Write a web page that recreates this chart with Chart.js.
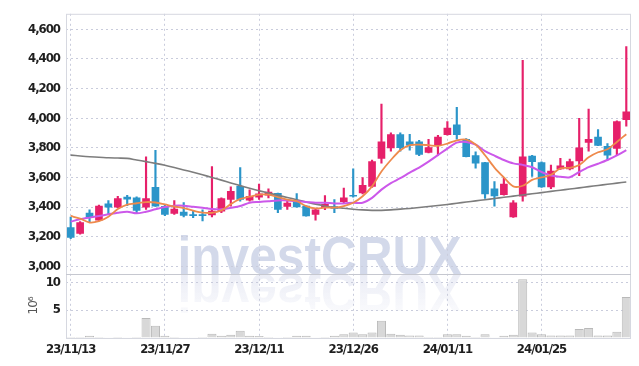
<!DOCTYPE html>
<html>
<head>
<meta charset="utf-8">
<script src="https://cdn.jsdelivr.net/npm/chart.js@4.4.1/dist/chart.umd.min.js"></script>
<style>
  html, body { margin: 0; padding: 0; background: #fff; }
  #wrap { width: 639px; height: 366px; }
</style>
</head>
<body>
<div id="wrap"><canvas id="chart" width="639" height="366"></canvas></div>
<script>
// trading days, YY/MM/DD
const dates = [
  '23/11/13','23/11/14','23/11/15','23/11/16','23/11/17','23/11/20','23/11/21','23/11/22','23/11/23','23/11/24',
  '23/11/27','23/11/28','23/11/29','23/11/30','23/12/01','23/12/04','23/12/05','23/12/06','23/12/07','23/12/08',
  '23/12/11','23/12/12','23/12/13','23/12/14','23/12/15','23/12/18','23/12/19','23/12/20','23/12/21','23/12/22',
  '23/12/26','23/12/27','23/12/28','24/01/02','24/01/03','24/01/04','24/01/05','24/01/08','24/01/09','24/01/10',
  '24/01/11','24/01/12','24/01/15','24/01/16','24/01/17','24/01/18','24/01/19','24/01/22','24/01/23','24/01/24',
  '24/01/25','24/01/26','24/01/29','24/01/30','24/01/31','24/02/01','24/02/02','24/02/05','24/02/06','24/02/07'
];

const open = [
  3262,3222,3360,3311,3422,3400,3467,3462,3400,3533,
  3405,3358,3367,3349,3349,3347,3373,3451,3540,3447,
  3467,3480,3493,3404,3440,3407,3351,3396,3404,3436,
  3480,3496,3540,3729,3800,3889,3840,3840,3769,3818,
  3889,3956,3858,3747,3700,3524,3484,3333,3473,3744,
  3700,3536,3658,3658,3711,3836,3873,3811,3796,3991
];
const high = [
  3333,3302,3382,3413,3444,3473,3480,3469,3740,3784,
  3412,3444,3431,3378,3382,3673,3462,3536,3667,3516,
  3556,3524,3495,3440,3491,3409,3385,3478,3451,3529,
  3658,3600,3718,4096,3902,3902,3891,3851,3858,3884,
  3978,4073,3862,3773,3702,3573,3596,3444,4391,3750,
  3705,3684,3729,3724,4000,4062,3924,3829,3982,4484
];
const low = [
  3187,3218,3302,3307,3356,3396,3410,3356,3385,3405,
  3342,3351,3333,3329,3307,3333,3362,3407,3440,3440,
  3451,3462,3362,3384,3400,3338,3311,3382,3362,3430,
  3467,3489,3533,3696,3778,3778,3784,3747,3765,3751,
  3885,3858,3738,3662,3458,3407,3480,3330,3440,3607,
  3533,3524,3655,3651,3613,3778,3814,3718,3751,3947
];
const close = [
  3195,3295,3329,3407,3400,3458,3453,3378,3458,3407,
  3350,3387,3344,3342,3342,3373,3458,3507,3451,3473,
  3489,3502,3384,3427,3402,3340,3382,3418,3391,3462,
  3473,3547,3707,3840,3889,3802,3818,3756,3802,3873,
  3933,3889,3740,3696,3489,3476,3556,3429,3740,3707,
  3536,3644,3678,3707,3800,3858,3816,3751,3978,4044
];

// moving averages
const ma5 = [
  3340,3322,3296,3305,3335,3387,3417,3426,3434,3431,
  3418,3404,3393,3376,3363,3361,3378,3420,3455,3470,
  3484,3484,3467,3451,3440,3407,3391,3396,3396,3407,
  3429,3473,3540,3640,3718,3784,3818,3822,3818,3813,
  3829,3851,3856,3823,3750,3667,3600,3540,3544,3584,
  3600,3618,3662,3665,3684,3736,3770,3790,3840,3892
];
const ma20 = [
  3302,3318,3329,3340,3351,3362,3369,3358,3369,3385,
  3400,3409,3409,3402,3395,3387,3385,3395,3407,3429,
  3435,3440,3445,3445,3440,3435,3429,3429,3425,3425,
  3429,3429,3462,3518,3562,3595,3633,3667,3707,3751,
  3795,3835,3840,3822,3778,3747,3718,3695,3685,3669,
  3637,3613,3605,3602,3637,3670,3693,3718,3749,3785
];
const ma60 = [
  3751,3745,3740,3737,3733,3731,3729,3718,3707,3695,
  3682,3667,3651,3635,3618,3600,3582,3563,3545,3527,
  3510,3495,3480,3465,3450,3435,3420,3408,3398,3392,
  3386,3381,3378,3378,3381,3386,3391,3397,3404,3411,
  3418,3426,3434,3442,3450,3458,3466,3474,3482,3490,
  3498,3506,3514,3522,3530,3538,3546,3554,3562,3569
];

// volume, millions of shares
const volume = [
  0.2,0.2,0.4,0.2,0.15,0.2,0.15,0.2,3.6,2.2,
  0.4,0.2,0.15,0.15,0.2,0.75,0.4,0.6,1.3,0.4,
  0.35,0.2,0.15,0.2,0.4,0.4,0.15,0.2,0.4,0.65,
  1.0,0.65,1.0,3.1,0.75,0.6,0.45,0.45,0.2,0.2,
  0.65,0.65,0.4,0.2,0.65,0.15,0.4,0.6,10.5,1.0,
  0.65,0.45,0.45,0.45,1.6,1.8,0.45,0.45,1.1,7.35
];

const priceTicks = [3000, 3200, 3400, 3600, 3800, 4000, 4200, 4400, 4600];
const volumeTicks = [0, 5, 10];

const UP = '#e6206a';
const DOWN = '#2b95c9';
const GRID = '#c9ccdc';
const FONT = "'DejaVu Sans Condensed', 'Liberation Sans', sans-serif";

const candleColor = ctx => close[ctx.dataIndex] >= open[ctx.dataIndex] ? UP : DOWN;

// watermark and frame
const decor = {
  id: 'decor',
  beforeDraw(chart) {
    const ctx = chart.ctx;
    const base = chart.scales.y.bottom;
    const cx = chart.width / 2;
    const text = 'investCRUX';
    ctx.save();
    ctx.font = "bold 53px 'Liberation Sans', Arial, sans-serif";
    ctx.textAlign = 'center';
    ctx.textBaseline = 'alphabetic';
    const sx = 284 / ctx.measureText(text).width;
    ctx.translate(cx, base);
    ctx.save();
    ctx.scale(sx, 1);
    ctx.fillStyle = 'rgba(200,207,229,0.8)';
    ctx.fillText(text, 0, 0);
    ctx.restore();
    ctx.scale(sx, -1);
    const g = ctx.createLinearGradient(0, 0, 0, -44);
    g.addColorStop(0, 'rgba(210,214,234,0.45)');
    g.addColorStop(1, 'rgba(210,214,234,0.08)');
    ctx.fillStyle = g;
    ctx.fillText(text, 0, 0);
    ctx.restore();
    // tighter axis lettering, closer to the narrow face of the original
    ctx.letterSpacing = '-1px';
  },
  afterDraw(chart) {
    const {ctx, chartArea: a} = chart;
    ctx.save();
    ctx.lineWidth = 1;
    ctx.strokeStyle = '#d6d8e0';
    ctx.strokeRect(a.left + 0.5, a.top + 0.5, a.right - a.left - 1, a.bottom - a.top);
    ctx.strokeStyle = '#c6c8d0';
    const sy = Math.round(chart.scales.y.bottom) + 0.5;
    ctx.beginPath();
    ctx.moveTo(a.left, sy);
    ctx.lineTo(a.right, sy);
    ctx.stroke();
    ctx.restore();
  }
};

const tickFont = { family: FONT, size: 13, weight: 'bold' };

new Chart(document.getElementById('chart'), {
  type: 'bar',
  data: {
    labels: dates,
    datasets: [
      { type: 'line', label: 'MA5', data: ma5, yAxisID: 'y', borderColor: '#ee8a4c', borderWidth: 1.8, pointRadius: 0, tension: 0.3, order: 0 },
      { type: 'line', label: 'MA20', data: ma20, yAxisID: 'y', borderColor: '#cc58ea', borderWidth: 2, pointRadius: 0, tension: 0.3, order: 0 },
      { type: 'line', label: 'MA60', data: ma60, yAxisID: 'y', borderColor: '#7d7d7d', borderWidth: 1.6, pointRadius: 0, tension: 0.3, order: 0 },
      { label: 'body', data: open.map((o, i) => [o, close[i]]), yAxisID: 'y', backgroundColor: candleColor,
        barThickness: 7, minBarLength: 1, grouped: false, order: 1 },
      { label: 'wick', data: low.map((l, i) => [l, high[i]]), yAxisID: 'y', backgroundColor: candleColor,
        barThickness: 1.5, grouped: false, order: 2 },
      { label: 'volume', data: volume, yAxisID: 'y2', backgroundColor: '#d8d8d8', borderColor: '#b9b9b9',
        borderWidth: { top: 1, left: 1, right: 1, bottom: 0 }, barPercentage: 1, categoryPercentage: 0.96,
        grouped: false, order: 3 }
    ]
  },
  options: {
    responsive: false,
    animation: false,
    devicePixelRatio: 1,
    layout: { padding: { top: 9, right: 8, left: 0, bottom: 0 } },
    plugins: { legend: { display: false }, tooltip: { enabled: false } },
    scales: {
      x: {
        type: 'category',
        offset: true,
        grid: { offset: false, drawTicks: false, color: ctx => ctx.index % 10 === 0 ? GRID : 'rgba(0,0,0,0)' },
        border: { display: false, dash: [2, 3] },
        ticks: {
          autoSkip: false, maxRotation: 0, padding: 4, color: '#1e1e1e', font: tickFont,
          callback: (v, i) => i % 10 === 0 ? dates[i] : ''
        },
        afterFit: s => { s.height = 28; }
      },
      // left boxes are laid out in reverse order: the volume panel goes first so it ends up at the bottom
      y2: {
        type: 'linear', position: 'left', stack: 'panels', stackWeight: 65,
        min: 0, max: 11.5,
        afterBuildTicks: s => { s.ticks = volumeTicks.map(v => ({ value: v })); },
        grid: { drawTicks: false, color: ctx => ctx.tick && ctx.tick.value === 0 ? 'rgba(0,0,0,0)' : GRID },
        border: { display: false, dash: [2, 3] },
        ticks: { autoSkip: false, padding: 6, color: '#1e1e1e', font: tickFont, callback: v => v === 0 ? '' : v },
        title: { display: true, text: '10⁶', color: '#555', font: { family: "'DejaVu Sans', sans-serif", size: 12 },
          padding: { top: 27, bottom: 0 } },
        afterFit: s => { s.width = 66; }
      },
      y: {
        type: 'linear', position: 'left', stack: 'panels', stackWeight: 263,
        min: 2950, max: 4705,
        afterBuildTicks: s => { s.ticks = priceTicks.map(v => ({ value: v })); },
        grid: { drawTicks: false, color: GRID },
        border: { display: false, dash: [2, 3] },
        ticks: { autoSkip: false, padding: 6, color: '#1e1e1e', font: tickFont },
        afterFit: s => { s.width = 66; }
      }
    }
  },
  plugins: [decor]
});
</script>
</body>
</html>
